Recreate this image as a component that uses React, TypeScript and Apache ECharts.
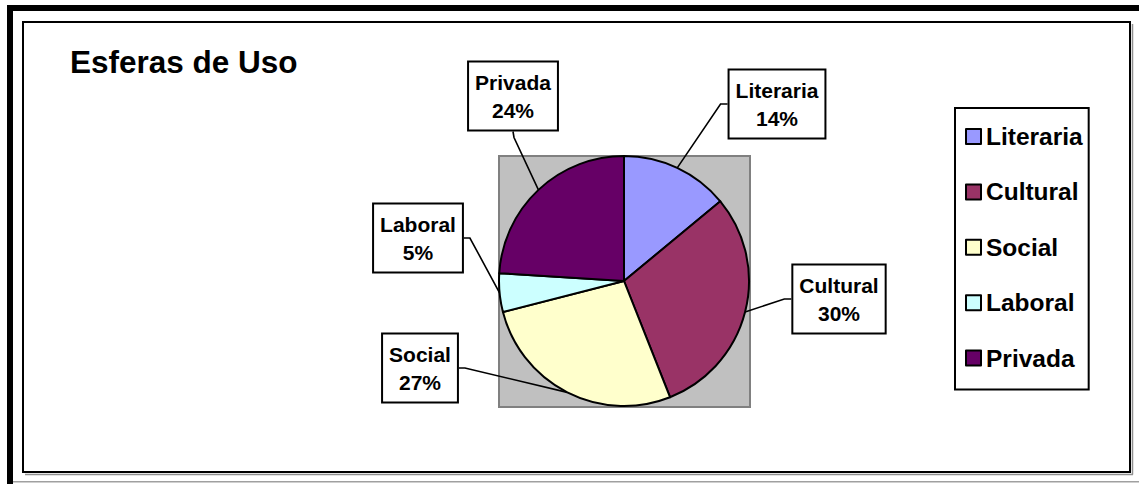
import React, { useEffect, useRef } from "react";
import * as echarts from "echarts";

// ---- data ----
const categories = ["Literaria", "Cultural", "Social", "Laboral", "Privada"];
const values = [14, 30, 27, 5, 24];
const colors = ["#9999FF", "#993366", "#FFFFCC", "#CCFFFF", "#660066"];
const titleText = "Esferas de Uso";

// ---- layout (label box centres and the side the leader line enters) ----
const labelCentres: Record<string, [number, number, string]> = {
  Literaria: [777, 104, "left"],
  Cultural: [839, 299, "left"],
  Social: [420, 368, "right"],
  Laboral: [418, 238, "right"],
  Privada: [513, 96, "bottom"],
};

const FONT = "'Liberation Sans', Arial, Helvetica, sans-serif";

export default function App() {
  const ref = useRef<HTMLDivElement>(null);

  useEffect(() => {
    document.body.style.margin = "0";
    const chart = echarts.init(ref.current!, null, { renderer: "svg" });

    const pieData = categories.map((name, i) => ({
      name,
      value: values[i],
      itemStyle: { color: colors[i] },
    }));

    const option: any = {
      animation: false,
      backgroundColor: "#fff",
      title: {
        text: titleText,
        left: 70,
        top: 46,
        padding: 0,
        textStyle: {
          fontFamily: FONT,
          fontSize: 31.5,
          fontWeight: "bold",
          color: "#000",
          lineHeight: 31,
        },
      },
      legend: {
        orient: "vertical",
        left: 955,
        top: 108,
        padding: [16, 6, 19, 10],
        itemGap: 30.4,
        itemWidth: 15,
        itemHeight: 15,
        icon: "rect",
        borderColor: "#000",
        borderWidth: 2,
        backgroundColor: "#fff",
        itemStyle: { borderColor: "#000", borderWidth: 2 },
        textStyle: {
          fontFamily: FONT,
          fontSize: 24.5,
          fontWeight: "bold",
          color: "#000",
          lineHeight: 24,
        },
        data: categories,
      },
      graphic: [
        // outer thick frame (top & left), thin bottom line
        { type: "rect", z: 0, shape: { x: 7, y: 5, width: 1140, height: 6 }, style: { fill: "#000" } },
        { type: "rect", z: 0, shape: { x: 7, y: 5, width: 6, height: 485 }, style: { fill: "#000" } },
        { type: "rect", z: 0, shape: { x: 13, y: 481, width: 1130, height: 1.5 }, style: { fill: "#a0a0a0" } },
        // inner frame with shadow
        { type: "line", z: 0, shape: { x1: 1132.5, y1: 24, x2: 1132.5, y2: 474.5 }, style: { stroke: "#909090", lineWidth: 1.5 } },
        { type: "line", z: 0, shape: { x1: 25, y1: 474.5, x2: 1133, y2: 474.5 }, style: { stroke: "#909090", lineWidth: 1.5 } },
        { type: "rect", z: 0, shape: { x: 23, y: 22, width: 1107, height: 450 }, style: { fill: "none", stroke: "#000", lineWidth: 2 } },
        // plot area
        { type: "rect", z: 0, shape: { x: 499, y: 156, width: 251, height: 251 }, style: { fill: "#C0C0C0", stroke: "#808080", lineWidth: 2 } },
      ],
      series: [
        {
          type: "pie",
          center: [624, 281],
          radius: 125,
          startAngle: 90,
          clockwise: true,
          avoidLabelOverlap: false,
          z: 3,
          itemStyle: { borderColor: "#000", borderWidth: 2 },
          emphasis: { disabled: true },
          label: {
            show: true,
            position: "outside",
            formatter: (p: any) => `${p.name}\n${Math.round(p.percent)}%`,
            fontFamily: FONT,
            fontSize: 21,
            fontWeight: "bold",
            color: "#000",
            lineHeight: 28,
            align: "center",
            backgroundColor: "#fff",
            borderColor: "#000",
            borderWidth: 2,
            padding: [6, 6, 5, 6],
          },
          labelLine: {
            show: true,
            length: 10,
            length2: 10,
            lineStyle: { color: "#000", width: 1.6 },
          },
          labelLayout: (params: any) => {
            const name = categories[params.dataIndex];
            const pos = labelCentres[name];
            if (!pos) return {};
            const [cx, cy, side] = pos;
            const w = params.labelRect.width;
            const h = params.labelRect.height;
            let p0: number[];
            if (params.labelLinePoints && params.labelLinePoints[0]) {
              p0 = params.labelLinePoints[0];
            } else {
              const total = values.reduce((a, b) => a + b, 0);
              let cum = 0;
              for (let i = 0; i < params.dataIndex; i++) cum += values[i];
              const mid = ((cum + values[params.dataIndex] / 2) / total) * Math.PI * 2;
              p0 = [624 + 125 * Math.sin(mid), 281 - 125 * Math.cos(mid)];
            }
            let p1: number[];
            let p2: number[];
            if (side === "left") {
              p2 = [cx - w / 2, cy];
              p1 = [p2[0] - 7, cy];
            } else if (side === "right") {
              p2 = [cx + w / 2, cy];
              p1 = [p2[0] + 6, cy];
            } else {
              p2 = [cx, cy + h / 2];
              p1 = [cx + 1, p2[1] + 6];
            }
            return {
              x: cx,
              y: cy,
              align: "center",
              verticalAlign: "middle",
              labelLinePoints: [p0, p1, p2],
            };
          },
          data: pieData,
        },
      ],
    };

    chart.setOption(option);
    return () => chart.dispose();
  }, []);

  return (
    <div
      ref={ref}
      style={{ position: "fixed", left: 0, top: 0, width: 1139, height: 484 }}
    />
  );
}
